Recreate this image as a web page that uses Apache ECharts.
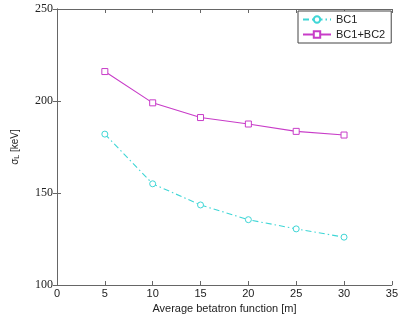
<!DOCTYPE html>
<html>
<head>
<meta charset="utf-8">
<script src="https://cdn.jsdelivr.net/npm/echarts@6/dist/echarts.min.js"></script>
<style>html,body{margin:0;padding:0;background:#fff}#c{width:401px;height:322px}</style>
</head>
<body>
<div id="c"></div>
<script>
var betaValues = [5, 10, 15, 20, 25, 30];
var bc1 = [182, 155, 143.5, 135.5, 130.5, 126];
var bc1bc2 = [216, 199, 191, 187.5, 183.5, 181.5];
var seriesNames = ['BC1', 'BC1+BC2'];
var xTicks = [0, 5, 10, 15, 20, 25, 30, 35];
var yTicks = [100, 150, 200, 250];

var chart = echarts.init(document.getElementById('c'), null, {renderer: 'canvas'});
function pairs(ys) { return betaValues.map(function (x, i) { return [x, ys[i]]; }); }
var font = 'Liberation Sans';
var axisLine = {show: true, lineStyle: {color: '#666', width: 1}};
chart.setOption({
  animation: false,
  backgroundColor: '#fff',
  grid: {left: 57, right: 5, top: 9, bottom: 37},
  xAxis: [{
    type: 'value', min: 0, max: 35, interval: 5,
    axisLine: axisLine,
    axisTick: {inside: true, length: 4, lineStyle: {color: '#666'}},
    axisLabel: {color: '#222', fontFamily: font, fontSize: 11, margin: 3},
    splitLine: {show: false},
    name: 'Average betatron function [m]', nameLocation: 'middle', nameGap: 18,
    nameTextStyle: {color: '#222', fontFamily: font, fontSize: 11}
  }, {
    type: 'value', min: 0, max: 35, interval: 5, position: 'top',
    axisLine: axisLine,
    axisTick: {inside: true, length: 4, lineStyle: {color: '#666'}},
    axisLabel: {show: false}, splitLine: {show: false}
  }],
  yAxis: [{
    type: 'value', min: 100, max: 250, interval: 50,
    axisLine: axisLine,
    axisTick: {inside: true, length: 4, lineStyle: {color: '#666'}},
    axisLabel: {color: '#222', fontFamily: 'Liberation Serif', fontSize: 12, margin: 4},
    splitLine: {show: false},
    name: '{m|σ}{s|L}{m| [keV]}', nameLocation: 'middle', nameGap: 36,
    nameTextStyle: {color: '#222', fontFamily: font, fontSize: 10,
      rich: {
        m: {fontFamily: font, fontSize: 10, color: '#222'},
        s: {fontFamily: font, fontSize: 7, color: '#222', verticalAlign: 'bottom', padding: [4, 0, 0, 0]}
      }}
  }, {
    type: 'value', min: 100, max: 250, interval: 50, position: 'right',
    axisLine: axisLine,
    axisTick: {inside: true, length: 4, lineStyle: {color: '#666'}},
    axisLabel: {show: false}, splitLine: {show: false}
  }],
  legend: {
    orient: 'vertical', left: 298, top: 11,
    backgroundColor: '#fff',
    borderColor: '#444', borderWidth: 1, borderRadius: 0,
    padding: [3, 6, 3, 4], itemGap: 4,
    itemWidth: 28, itemHeight: 8,
    textStyle: {color: '#222', fontFamily: font, fontSize: 11},
    data: seriesNames
  },
  series: [{
    name: seriesNames[0], type: 'line', data: pairs(bc1),
    symbol: 'circle', symbolSize: 6, showSymbol: true,
    itemStyle: {color: '#fff', borderColor: '#3fd6d6', borderWidth: 1},
    lineStyle: {color: '#3fd6d6', width: 1.1, type: [6, 3, 1.5, 3]}
  }, {
    name: seriesNames[1], type: 'line', data: pairs(bc1bc2),
    symbol: 'rect', symbolSize: 6, showSymbol: true,
    itemStyle: {color: '#fff', borderColor: '#c83cc8', borderWidth: 1},
    lineStyle: {color: '#c83cc8', width: 1.1, type: 'solid'}
  }]
});
</script>
</body>
</html>
